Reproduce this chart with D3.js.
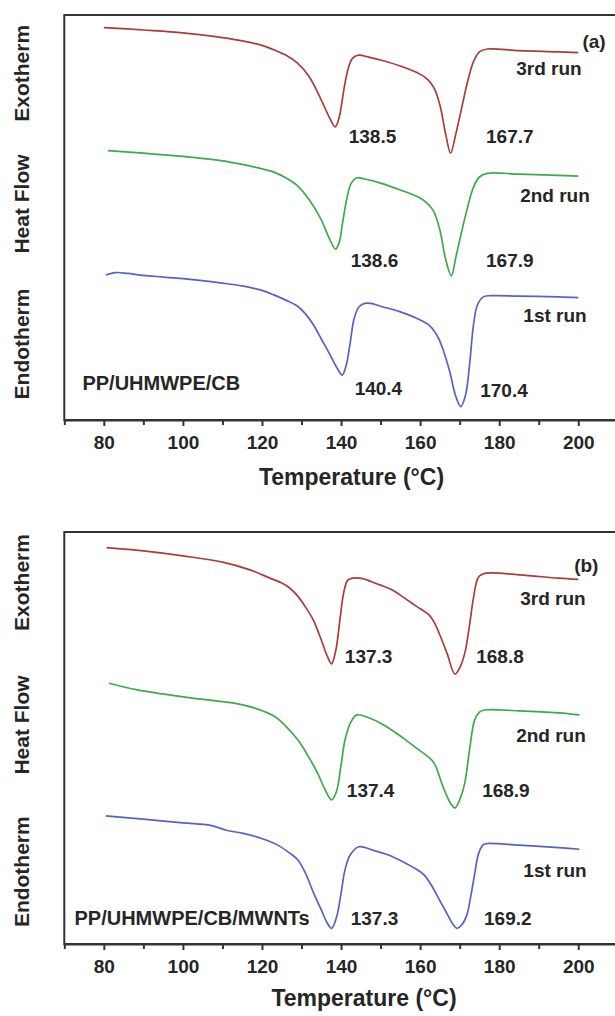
<!DOCTYPE html>
<html><head><meta charset="utf-8">
<script src="https://cdn.jsdelivr.net/npm/d3@7"></script>
<style>
html,body{margin:0;padding:0;background:#fff;}
svg{display:block;}
text{font-family:"Liberation Sans",Arial,sans-serif;font-weight:bold;fill:#262626;}
</style></head>
<body>
<svg id="chart" width="615" height="1016"></svg>
<script>
// ---------- DATA (Temperature in °C, heat flow in arbitrary units) ----------
const majorTicks = [80, 100, 120, 140, 160, 180, 200];
const minorTicks = [70, 90, 110, 130, 150, 170, 190, 210];

// Panel (a) PP/UHMWPE/CB
const aRun3T = [80,90,100,110,115,120,123,126,129,132,135,137,138.5,139.5,140.3,141,142,143,144.5,147,150,155,160,162,163.5,165,166.5,167.7,169,170.5,172,173.5,175,177,185,195,200];
const aRun3Y = [96.9,96.3,95.6,94.4,93.6,92.5,91.4,90.1,88.1,84.7,79.0,74.8,72.4,74.6,79.0,83.2,87.4,89.4,90.1,89.6,88.9,87.4,85.4,84.0,82.0,77.8,70.4,65.9,70.5,77.0,83.5,88.5,90.9,91.6,91.2,90.9,90.7];

const aRun2T = [81,90,100,110,115,120,123,126,129,132,135,137,138.6,139.5,140.5,141.5,142.5,144,146,150,155,160,162,163.5,165,166.5,167.9,169,170.5,172,173.5,175,177,185,195,200];
const aRun2Y = [66.5,65.9,65.1,64.0,63.1,62.0,61.2,59.8,57.8,54.3,49.4,44.9,42.2,43.7,49.4,54.8,58.3,59.8,59.5,58.5,56.8,54.8,53.3,51.4,46.9,39.5,35.6,40.0,46.5,52.5,57.5,60.0,60.9,60.7,60.4,60.2];

const aRun1T = [80.5,83,86,90,95,100,110,115,120,123,126,129,131,133,135,137,139,140.3,141.3,142.3,143.3,144.5,146,147.5,150,155,160,162.5,164.5,166,167.5,169,170.3,171.5,172.5,173.5,174.5,176,178,185,195,200];
const aRun1Y = [35.8,36.4,36.2,35.7,35.3,34.9,33.8,33.1,32.0,30.9,29.6,28.1,26.2,23.5,20.0,16.5,12.8,11.1,13.5,19.0,25.0,27.9,28.8,28.8,28.1,26.7,24.7,23.2,20.5,16.8,11.9,5.9,3.3,6.2,13.6,23.5,28.4,30.4,30.7,30.6,30.4,30.2];

// Panel (b) PP/UHMWPE/CB/MWNTs
const bRun3T = [80.7,90,100,110,117,122,125,127,129,131,133,135,136.5,137.6,138.7,139.7,140.7,141.7,143,145.5,147.5,150,153,156,159,162,163.5,165,166.8,168.8,170,171.3,172.5,173.5,174.8,176.7,185,195,200];
const bRun3Y = [96.2,95.4,94.2,92.7,90.8,88.8,87.6,86.4,84.5,81.8,78.6,73.8,69.9,68.0,71.4,78.6,85.4,88.3,88.8,88.7,88.0,87.1,85.9,84.0,82.0,80.1,78.2,75.0,70.6,65.5,67.0,70.6,77.4,84.0,89.1,90.0,89.6,88.8,88.5];

const bRun2T = [81.3,88.5,100,113.3,118,123.2,126,129.1,131.5,134.1,136,137.6,138.8,140,141,142.5,144,147,150,152.9,156,159,162.9,164,165.3,166.5,167.8,168.8,170,171.3,172.5,173.8,175,176.2,185,195,200.3];
const bRun2Y = [63.3,61.7,60.0,58.4,57.3,55.2,52.9,49.5,45.9,41.4,37.4,35.0,36.9,43.4,49.5,53.9,55.6,54.9,53.6,51.9,49.8,47.6,44.7,43.0,39.5,36.5,34.0,33.0,35.0,39.1,47.1,54.4,56.3,56.8,56.6,56.1,55.6];

const bRun1T = [80.5,90,100,107,111,115,121.2,124,127.1,129.1,131,133.1,135,136.5,137.6,138.8,140,141,142.3,144.5,148,152,156,159,161,163,165,167,168.3,169.3,170.5,171.8,172.8,173.8,174.8,176,177,185,195,200.3];
const bRun1Y = [31.1,30.3,29.4,28.8,27.6,26.9,25.2,24.0,22.0,20.4,17.2,12.3,8.3,5.1,3.8,6.3,12.3,18.0,21.6,23.6,22.8,21.6,19.8,18.2,16.8,14.0,10.5,7.0,4.8,3.8,4.6,7.0,11.5,17.0,22.0,24.1,24.4,24.0,23.4,23.0];

const runNames = ["3rd run", "2nd run", "1st run"];
const aPeaks = [["138.5","167.7"],["138.6","167.9"],["140.4","170.4"]];
const bPeaks = [["137.3","168.8"],["137.4","168.9"],["137.3","169.2"]];
const yLabels = ["Exotherm", "Heat Flow", "Endotherm"];
const xTitle = "Temperature (°C)";

// ---------- LAYOUT ----------
const colors = ["#ad3b3b", "#3dab4b", "#5662c8"];
const svg = d3.select("#chart");
const xRange = [64.3, 617.8];

const panels = [
  {
    top: 15, bottom: 420, tag: "(a)", sample: "PP/UHMWPE/CB",
    series: [[aRun3T, aRun3Y], [aRun2T, aRun2Y], [aRun1T, aRun1Y]],
    peaks: aPeaks,
    tagPos: [594, 41.7],
    runPos: [[549, 68.3], [555, 195], [555, 315]],
    peakPos: [[[372.5, 136.7], [509.8, 136.7]], [[374.5, 260], [509.8, 260]], [[378.4, 388.3], [504, 390]]],
    samplePos: [82.4, 383.3],
    yLabPos: [73.3, 204, 344],
    titlePos: [351.5, 476.7]
  },
  {
    top: 532, bottom: 944, tag: "(b)", sample: "PP/UHMWPE/CB/MWNTs",
    series: [[bRun3T, bRun3Y], [bRun2T, bRun2Y], [bRun1T, bRun1Y]],
    peaks: bPeaks,
    tagPos: [586.3, 565],
    runPos: [[553, 598.3], [551, 735], [555, 870]],
    peakPos: [[[368.6, 656.7], [500, 656.7]], [[370.6, 790], [505.9, 790]], [[374.5, 918.3], [507.8, 918.3]]],
    samplePos: [74.5, 918.3],
    yLabPos: [582.5, 725, 871.7],
    titlePos: [364, 998]
  }
];

panels.forEach(p => {
  const x = d3.scaleLinear().domain([70, 210]).range(xRange);
  const y = d3.scaleLinear().domain([0, 100]).range([p.bottom, p.top]);
  const g = svg.append("g");

  // frame
  g.append("rect")
    .attr("x", xRange[0]).attr("y", p.top)
    .attr("width", xRange[1] - xRange[0]).attr("height", p.bottom - p.top)
    .attr("fill", "none").attr("stroke", "#333").attr("stroke-width", 2);

  // minor ticks
  g.append("g").attr("transform", `translate(0,${p.bottom})`)
    .call(d3.axisBottom(x).tickValues(minorTicks).tickSize(5).tickSizeOuter(0).tickFormat(""))
    .call(s => s.select(".domain").remove())
    .call(s => s.selectAll("line").attr("stroke", "#333").attr("stroke-width", 2));

  // major ticks + labels
  const ax = g.append("g").attr("transform", `translate(0,${p.bottom})`)
    .call(d3.axisBottom(x).tickValues(majorTicks).tickSize(6).tickSizeOuter(0).tickFormat(d3.format("d")));
  ax.select(".domain").attr("stroke", "#333").attr("stroke-width", 2);
  ax.selectAll("line").attr("stroke", "#333").attr("stroke-width", 2);
  ax.selectAll("text").attr("y", 22.7).attr("dy", "0.35em")
    .style("font-size", "19px").style("font-family", "'Liberation Sans',Arial,sans-serif")
    .style("font-weight", "bold").attr("fill", "#262626");

  // curves
  const line = d3.line().x(d => x(d[0])).y(d => y(d[1])).curve(d3.curveCatmullRom.alpha(0.5));
  p.series.forEach((s, i) => {
    const pts = s[0].map((t, k) => [t, s[1][k]]);
    g.append("path").datum(pts).attr("d", line)
      .attr("fill", "none").attr("stroke", colors[i]).attr("stroke-width", 1.7)
      .attr("stroke-linejoin", "round");
  });

  // texts
  const txt = (xx, yy, s, size, anchor) => g.append("text")
    .attr("x", xx).attr("y", yy).attr("dy", "0.35em")
    .attr("text-anchor", anchor || "middle").style("font-size", size + "px").text(s);

  txt(p.tagPos[0], p.tagPos[1], p.tag, 19);
  runNames.forEach((r, i) => txt(p.runPos[i][0], p.runPos[i][1], r, 19));
  p.peaks.forEach((pk, i) => {
    txt(p.peakPos[i][0][0], p.peakPos[i][0][1], pk[0], 19);
    txt(p.peakPos[i][1][0], p.peakPos[i][1][1], pk[1], 19);
  });
  txt(p.samplePos[0], p.samplePos[1], p.sample, 20, "start");
  txt(p.titlePos[0], p.titlePos[1], xTitle, 23);

  yLabels.forEach((l, i) => {
    g.append("text")
      .attr("transform", `translate(21.5,${p.yLabPos[i]}) rotate(-90)`)
      .attr("dy", "0.35em").attr("text-anchor", "middle")
      .style("font-size", "21px").text(l);
  });
});
</script>
</body></html>
